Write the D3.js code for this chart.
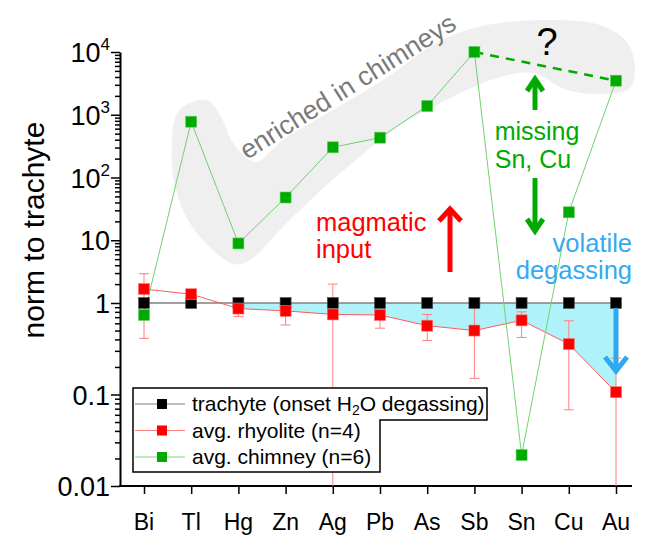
<!DOCTYPE html>
<html>
<head>
<meta charset="utf-8">
<script src="https://cdn.jsdelivr.net/npm/d3@7"></script>
<style>
  html, body { margin: 0; padding: 0; background: #fff; }
  svg { display: block; }
  text { font-family: "Liberation Sans", Arial, sans-serif; }
</style>
</head>
<body>
<svg id="chart" width="646" height="535"></svg>
<script>
// ---------- data ----------
const categories = ["Bi","Tl","Hg","Zn","Ag","Pb","As","Sb","Sn","Cu","Au"];
const trachyte = [1,1,1,1,1,1,1,1,1,1,1];
const rhyolite = [1.67,1.38,0.87,0.82,0.75,0.74,0.565,0.50,0.646,0.356,0.106];
const rhyoliteLow = [0.41,null,0.71,0.575,0.01,0.53,0.39,0.15,0.42,0.068,0.01];
const rhyoliteHigh = [2.93,null,1.0,1.0,2.0,1.0,0.75,1.0,0.8,0.64,0.25];
const chimney = [0.74,775,8.9,48,303,431,1378,10000,0.0218,27.9,3490];
const majorTicks = [0.01,0.1,1,10,100,1000,10000];
const majorLabels = [["0.01",""],["0.1",""],["1",""],["10",""],["10","2"],["10","3"],["10","4"]];
const legendLabels = ["trachyte (onset H\u2082O degassing)","avg. rhyolite (n=4)","avg. chimney (n=6)"];
// outline of the shaded "enriched in chimneys" band, in (category index, value) space
const blobIdx = [0.593,0.657,0.826,1.335,1.610,1.886,2.182,2.394,2.945,4.004,5.064,6.123,6.843,7.542,8.602,9.661,10.233,10.40,10.297,9.661,8.962,8.242,7.542,6.843,6.123,5.424,4.364,3.453,2.818,2.246,1.886,1.186,0.826,0.614];
const blobVal = [355,887,1330,1718,991,355,205,177,396,1191,3580,12940,22400,29000,32300,26900,14430,5770,2670,2140,2480,4630,4000,2480,1330,687,158,39,13,4.8,4.2,11.3,30,102];

// ---------- scales ----------
const svg = d3.select("#chart");
const x = d3.scalePoint().domain(categories).range([144, 616]);
const xi = d3.scaleLinear().domain([0, categories.length - 1]).range([144, 616]);
const y = d3.scaleLog().domain([0.01, 1, 10000]).range([486, 303, 52]);

const RED = "#ff0000", GREEN = "#00aa00", BLUE = "#33aaf2";

// ---------- shaded band ----------
const blobPts = blobIdx.map((d, i) => [xi(d), y(blobVal[i])]);
svg.append("path")
  .attr("d", d3.line().curve(d3.curveCatmullRomClosed.alpha(0.5))(blobPts))
  .attr("fill", "#efefef");

svg.append("text")
  .attr("transform", "translate(247,160) rotate(-32)")
  .attr("font-size", 26.5).attr("fill", "#7a7a7a")
  .text("enriched in chimneys");

// ---------- cyan depletion fill ----------
const fillIdx = d3.range(2, categories.length);
svg.append("path")
  .attr("fill", "#b0f2fa")
  .attr("d", d3.area()
    .x(i => x(categories[i]))
    .y0(i => y(trachyte[i]))
    .y1(i => y(rhyolite[i]))(fillIdx));

// ---------- axes ----------
const yMinor = [];
for (let e = -2; e < 4; e++) for (let k = 2; k <= 9; k++) yMinor.push(k * Math.pow(10, e));

const gy = svg.append("g").attr("transform", "translate(120,0)");
gy.call(d3.axisLeft(y).tickValues(yMinor).tickSize(5).tickSizeOuter(0).tickFormat(""));
gy.call(g => g.select(".domain").remove());
const gy2 = svg.append("g").attr("transform", "translate(120,0)");
gy2.call(d3.axisLeft(y).tickValues(majorTicks).tickSize(9).tickSizeOuter(0).tickFormat(""));
svg.selectAll(".tick line").attr("stroke", "#000").attr("stroke-width", 1.5);
gy2.select(".domain").attr("stroke", "#000").attr("stroke-width", 2);

const ylab = svg.append("g");
majorTicks.forEach((v, i) => {
  const t = ylab.append("text")
    .attr("x", 110).attr("y", y(v) + 10)
    .attr("text-anchor", "end").attr("font-size", 27).attr("fill", "#000");
  t.append("tspan").text(majorLabels[i][0]);
  if (majorLabels[i][1]) t.append("tspan").attr("font-size", 17).attr("dy", -12).text(majorLabels[i][1]);
});

const gx = svg.append("g").attr("transform", "translate(0,486)");
gx.call(d3.axisBottom(x).tickSize(8).tickSizeOuter(0).tickFormat(""));
gx.select(".domain").remove();
gx.selectAll(".tick line").attr("stroke", "#000").attr("stroke-width", 1.5);
svg.append("line").attr("x1", 119).attr("x2", 632).attr("y1", 486).attr("y2", 486)
  .attr("stroke", "#000").attr("stroke-width", 2);
svg.append("g").selectAll("text").data(categories).join("text")
  .attr("x", d => x(d)).attr("y", 530).attr("text-anchor", "middle")
  .attr("font-size", 23).attr("fill", "#000").text(d => d);

svg.append("text")
  .attr("transform", "translate(44,230) rotate(-90)")
  .attr("text-anchor", "middle").attr("font-size", 30).attr("fill", "#000")
  .text("norm to trachyte");

// ---------- error bars (rhyolite) ----------
const eb = svg.append("g").attr("stroke", "#ff8080").attr("stroke-width", 1);
categories.forEach((c, i) => {
  if (rhyoliteLow[i] == null) return;
  const cx = x(c), y1 = y(rhyoliteHigh[i]), y2 = y(rhyoliteLow[i]);
  eb.append("line").attr("x1", cx).attr("x2", cx).attr("y1", y1).attr("y2", y2);
  eb.append("line").attr("x1", cx - 5).attr("x2", cx + 5).attr("y1", y1).attr("y2", y1);
  if (rhyoliteLow[i] > 0.01) eb.append("line").attr("x1", cx - 5).attr("x2", cx + 5).attr("y1", y2).attr("y2", y2);
});

// ---------- lines ----------
const line = d3.line().x((d, i) => x(categories[i])).y(d => y(d));
svg.append("path").attr("d", line(trachyte)).attr("fill", "none").attr("stroke", "#808080").attr("stroke-width", 1.5);
svg.append("path").attr("d", line(rhyolite)).attr("fill", "none").attr("stroke", "#ff5a5a").attr("stroke-width", 1);
svg.append("path").attr("d", line(chimney)).attr("fill", "none").attr("stroke", "#6fd26f").attr("stroke-width", 1);
svg.append("line")
  .attr("x1", x("Sb")).attr("y1", y(chimney[7]))
  .attr("x2", x("Au")).attr("y2", y(chimney[10]))
  .attr("stroke", GREEN).attr("stroke-width", 2.5).attr("stroke-dasharray", "9,7");

// ---------- markers ----------
const S = 11;
function markers(vals, fill, stroke) {
  svg.append("g").selectAll("rect").data(vals).join("rect")
    .attr("x", (d, i) => x(categories[i]) - S / 2)
    .attr("y", d => y(d) - S / 2)
    .attr("width", S).attr("height", S)
    .attr("fill", fill).attr("stroke", stroke).attr("stroke-width", 0.6);
}
markers(trachyte, "#000", "#555");
markers(rhyolite, RED, "#ff7070");
markers(chimney, GREEN, "#60d060");

// ---------- annotations ----------
function arrow(x0, yTail, yTip, color, hw, hl) {
  const dir = yTip < yTail ? 1 : -1;
  const g = svg.append("g").attr("stroke", color).attr("stroke-width", 5).attr("fill", "none")
    .attr("stroke-linejoin", "miter");
  g.append("line").attr("x1", x0).attr("x2", x0).attr("y1", yTail).attr("y2", yTip + dir * 2);
  g.append("polyline").attr("points",
    `${x0 - hw},${yTip + dir * hl} ${x0},${yTip + dir * 2} ${x0 + hw},${yTip + dir * hl}`);
}

svg.append("text").attr("x", 547).attr("y", 55).attr("text-anchor", "middle")
  .attr("font-size", 38).attr("fill", "#000").text("?");

svg.append("text").attr("x", 537).attr("y", 140).attr("text-anchor", "middle")
  .attr("font-size", 25).attr("fill", GREEN).text("missing");
svg.append("text").attr("x", 533).attr("y", 168).attr("text-anchor", "middle")
  .attr("font-size", 25).attr("fill", GREEN).text("Sn, Cu");
arrow(535, 110, 77, GREEN, 8, 14);
arrow(535, 178, 233, GREEN, 8, 14);

svg.append("text").attr("x", 316).attr("y", 231)
  .attr("font-size", 25.5).attr("fill", RED).text("magmatic");
svg.append("text").attr("x", 316).attr("y", 258)
  .attr("font-size", 25.5).attr("fill", RED).text("input");
arrow(450, 272, 207, RED, 11, 14);

svg.append("text").attr("x", 632).attr("y", 252).attr("text-anchor", "end")
  .attr("font-size", 25.5).attr("fill", BLUE).text("volatile");
svg.append("text").attr("x", 632).attr("y", 279).attr("text-anchor", "end")
  .attr("font-size", 25.5).attr("fill", BLUE).text("degassing");
arrow(x("Au"), 308, 373, "#30a8f0", 11, 16);

// ---------- legend ----------
const lg = svg.append("g");
lg.append("path").attr("d", "M133,388 H487 V420 H380 V472 H133 Z")
  .attr("fill", "#fff").attr("stroke", "#000").attr("stroke-width", 1.5);
const legColors = [["#808080", "#000"], ["#ff8080", RED], ["#80d880", GREEN]];
legendLabels.forEach((lab, i) => {
  const cy = 404 + i * 26.5;
  lg.append("line").attr("x1", 135).attr("x2", 185).attr("y1", cy).attr("y2", cy)
    .attr("stroke", legColors[i][0]).attr("stroke-width", 1.2);
  lg.append("rect").attr("x", 157).attr("y", cy - 5).attr("width", 10).attr("height", 10)
    .attr("fill", legColors[i][1]);
  const t = lg.append("text").attr("x", 192).attr("y", cy + 7).attr("font-size", 21).attr("fill", "#000");
  if (i === 0) {
    t.append("tspan").text("trachyte (onset H");
    t.append("tspan").attr("font-size", 14).attr("dy", 4).text("2");
    t.append("tspan").attr("dy", -4).text("O degassing)");
  } else {
    t.text(lab);
  }
});
</script>
</body>
</html>
